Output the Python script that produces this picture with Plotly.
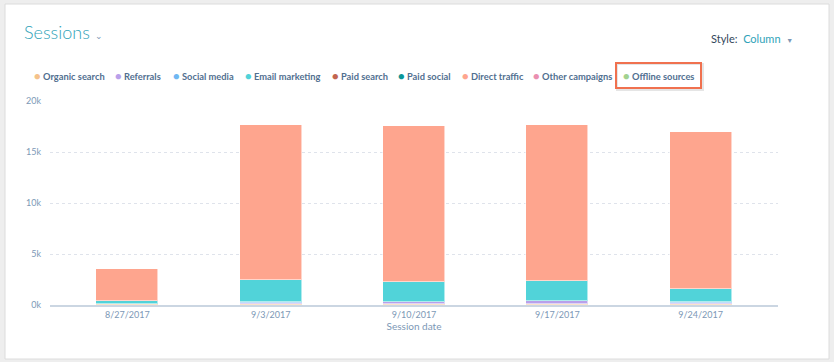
import plotly.graph_objects as go

# ---------------- data ----------------
dates = ["8/27/2017", "9/3/2017", "9/10/2017", "9/17/2017", "9/24/2017"]
organic_search = [60, 110, 110, 130, 120]
referrals = [40, 130, 150, 230, 60]
social_media = [20, 60, 60, 80, 70]
email_marketing = [290, 2160, 1960, 1880, 1330]
paid_search = [0, 0, 0, 0, 0]
paid_social = [0, 0, 0, 0, 0]
direct_traffic = [3090, 15170, 15240, 15310, 15410]
other_campaigns = [0, 0, 0, 0, 0]
offline_sources = [0, 0, 0, 0, 0]

series_names = ["Organic search", "Referrals", "Social media", "Email marketing",
                "Paid search", "Paid social", "Direct traffic", "Other campaigns",
                "Offline sources"]
series_values = [organic_search, referrals, social_media, email_marketing,
                 paid_search, paid_social, direct_traffic, other_campaigns,
                 offline_sources]
series_colors = ["#f5c28a", "#b9a0ea", "#6fb7f2", "#51d3d9", "#c2654f",
                 "#0a9698", "#fea58e", "#ea8fb0", "#a2d28f"]

y_tickvals = [0, 5000, 10000, 15000, 20000]
y_ticktext = ["0k", "5k", "10k", "15k", "20k"]

# ---------------- layout helpers ----------------
W, H = 834, 362
PL, PR, PT, PB = 50, 778, 101, 305  # plot area in pixels


def px2x(px):
    return (px - PL) / (PR - PL)


def py2y(py):
    return (PB - py) / (PB - PT)


FONT = "Lato, 'Open Sans', sans-serif"
SLATE = "#516f90"
LIGHT = "#7c98b6"

fig = go.Figure()
for name, vals, col in zip(series_names, series_values, series_colors):
    fig.add_trace(go.Bar(
        x=dates, y=vals, name=name, marker_color=col,
        marker_line=dict(color="rgba(255,255,255,0.55)", width=1),
        width=0.433, showlegend=False,
    ))

shapes = []
# card background
shapes.append(dict(type="rect", xref="paper", yref="paper", layer="below",
                   x0=px2x(5), x1=px2x(829), y0=py2y(359), y1=py2y(4),
                   fillcolor="white", line=dict(color="#dcdcdc", width=1)))
# highlight box shadow + box around "Offline sources"
shapes.append(dict(type="rect", xref="paper", yref="paper",
                   x0=px2x(617), x1=px2x(703), y0=py2y(90), y1=py2y(64),
                   fillcolor="rgba(0,0,0,0)", line=dict(color="rgba(0,0,0,0.10)", width=2)))
shapes.append(dict(type="rect", xref="paper", yref="paper",
                   x0=px2x(616), x1=px2x(701), y0=py2y(88), y1=py2y(63),
                   fillcolor="rgba(0,0,0,0)", line=dict(color="#f0714f", width=2)))

annotations = []
# title
annotations.append(dict(xref="paper", yref="paper", x=px2x(22), y=py2y(32),
                        xanchor="left", yanchor="middle", showarrow=False,
                        text="Sessions <span style='font-size:9px;color:#7c98b6'>⌄</span>",
                        font=dict(family=FONT, size=18, color="#2fa3b9", weight=300)))
# style selector
annotations.append(dict(xref="paper", yref="paper", x=px2x(709), y=py2y(38),
                        xanchor="left", yanchor="middle", showarrow=False,
                        text="<span style='color:#33475b'>Style:</span>  Column  <span style='font-size:7px;color:#7c98b6'>▼</span>",
                        font=dict(family=FONT, size=11, color="#2fa3b9")))
# custom legend
legend_px = [32, 113, 171, 243, 330, 396, 460, 531, 621]
for name, col, lx in zip(series_names, series_colors, legend_px):
    annotations.append(dict(
        xref="paper", yref="paper", x=px2x(lx), y=py2y(75),
        xanchor="left", yanchor="middle", showarrow=False,
        text=f"<span style='color:{col};font-size:11px'>●</span> <b>{name}</b>",
        font=dict(family=FONT, size=9.3, color=SLATE)))

fig.update_layout(
    width=W, height=H,
    margin=dict(l=PL, r=W - PR, t=PT, b=H - PB),
    paper_bgcolor="#eeeeee", plot_bgcolor="white",
    barmode="stack", bargap=0.0,
    font=dict(family=FONT, color=LIGHT, size=9),
    shapes=shapes, annotations=annotations,
    showlegend=False,
    xaxis=dict(
        type="category", range=[-0.54, 4.54],
        showgrid=False, zeroline=False,
        showline=True, linecolor="#cbd6e2", linewidth=2,
        ticks="", tickfont=dict(family=FONT, size=9, color=LIGHT),
        title=dict(text="Session date", standoff=2,
                   font=dict(family=FONT, size=10, color=LIGHT)),
    ),
    yaxis=dict(
        range=[0, 20000], tickvals=y_tickvals, ticktext=y_ticktext,
        showgrid=True, gridcolor="#dfe3eb", griddash="dot", gridwidth=1,
        zeroline=False, showline=False, ticks="",
        ticklabelstandoff=8,
        tickfont=dict(family=FONT, size=9, color=LIGHT),
    ),
)

fig.write_html("out.html",
               config={"displayModeBar": False},
               post_script="document.body.style.margin='0';document.body.style.overflow='hidden';")
